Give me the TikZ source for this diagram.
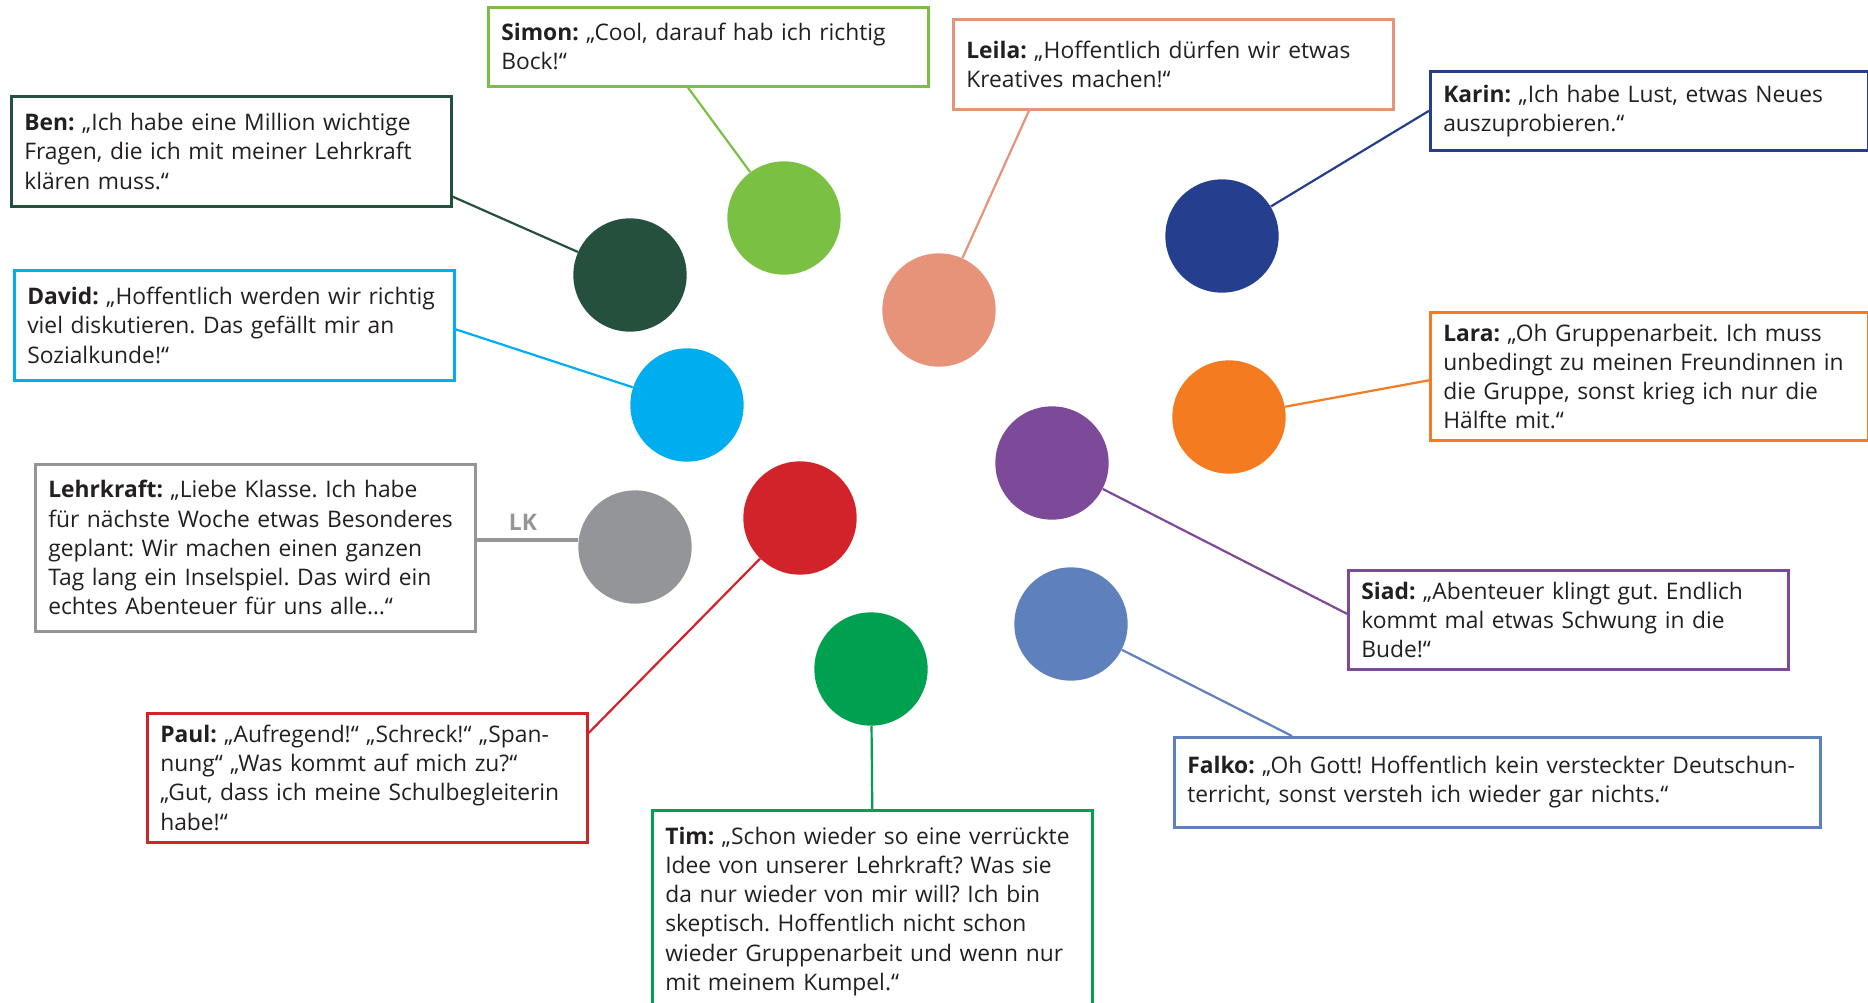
\documentclass[tikz,border=0pt]{standalone}
\usepackage{fontspec}
\setmainfont{Open Sans}
\usetikzlibrary{calc}
\frenchspacing
\definecolor{textgray}{HTML}{231F20}
\definecolor{bengreen}{HTML}{25503D}
\definecolor{simongreen}{HTML}{7AC143}
\definecolor{leilarose}{HTML}{E6937A}
\definecolor{karinblue}{HTML}{253F8E}
\definecolor{davidcyan}{HTML}{00AEEF}
\definecolor{laraorange}{HTML}{F47B20}
\definecolor{siadpurple}{HTML}{7D4A9A}
\definecolor{lkgray}{HTML}{939598}
\definecolor{paulred}{HTML}{D2232A}
\definecolor{falkoblue}{HTML}{5E81BD}
\definecolor{timgreen}{HTML}{00A051}
\tikzset{
  person/.style={circle,fill=#1,draw=none,inner sep=0pt,minimum size=56.7pt},
  speech/.style={draw=#1,line width=1.3pt,anchor=north west,align=left,inner xsep=6.5pt,inner ysep=0pt,
    text=textgray,font=\fontsize{11.4}{14.6}\selectfont,text width=207pt},
  link/.style={draw=#1,line width=1.1pt}
}

\begin{document}
\begin{tikzpicture}[x=0.5pt,y=-0.5pt]
     \useasboundingbox (0,0) rectangle (1868,1002);
     % the kids and the teacher
     \node[person=bengreen]   at (630,275)  (ben)   {};
     \node[person=simongreen] at (784,218)  (simon) {};
     \node[person=leilarose]  at (939,310)  (leila) {};
     \node[person=karinblue]  at (1222,236) (karin) {};
     \node[person=davidcyan]  at (687,405)  (david) {};
     \node[person=laraorange] at (1229,417) (lara)  {};
     \node[person=siadpurple] at (1052,463) (siad)  {};
     \node[person=lkgray]     at (635,547)  (lk)    {};
     \node[person=paulred]    at (800,518)  (paul)  {};
     \node[person=falkoblue]  at (1071,624) (falko) {};
     \node[person=timgreen]   at (871,669)  (tim)   {};
     % what they say
     \node[speech=simongreen,minimum height=39.5pt] at (487,6) (simonbox)
       {\textbf{Simon:} „Cool, darauf hab ich richtig\\Bock!“};
     \node[speech=leilarose,minimum height=45pt] at (952,18) (leilabox)
       {\textbf{Leila:} „Hoffentlich dürfen wir etwas\\Kreatives machen!“};
     \node[speech=karinblue,minimum height=39.5pt,text width=206pt] at (1429,70) (karinbox)
       {\textbf{Karin:} „Ich habe Lust, etwas Neues\\auszuprobieren.“};
     \node[speech=bengreen,minimum height=55pt] at (10,95) (benbox)
       {\textbf{Ben:} „Ich habe eine Million wichtige\\Fragen, die ich mit meiner Lehrkraft\\klären muss.“};
     \node[speech=davidcyan,minimum height=55pt] at (13,269) (davidbox)
       {\textbf{David:} „Hoffentlich werden wir richtig\\viel diskutieren. Das gefällt mir an\\Sozialkunde!“};
     \node[speech=laraorange,minimum height=64pt,text width=206pt] at (1429,311) (larabox)
       {\textbf{Lara:} „Oh Gruppenarbeit. Ich muss\\unbedingt zu meinen Freundinnen in\\die Gruppe, sonst krieg ich nur die\\Hälfte mit.“};
     \node[speech=lkgray,minimum height=83.5pt] at (34,463) (lehrkraftbox)
       {\textbf{Lehrkraft:} „Liebe Klasse. Ich habe\\für nächste Woche etwas Besonderes\\geplant: Wir machen einen ganzen\\Tag lang ein Inselspiel. Das wird ein\\echtes Abenteuer für uns alle…“};
     \node[speech=siadpurple,minimum height=49.5pt] at (1347,569) (siadbox)
       {\textbf{Siad:} „Abenteuer klingt gut. Endlich\\kommt mal etwas Schwung in die\\Bude!“};
     \node[speech=paulred,minimum height=64.5pt] at (146,712) (paulbox)
       {\textbf{Paul:} „Aufregend!“ „Schreck!“ „Span-\\nung“ „Was kommt auf mich zu?“\\„Gut, dass ich meine Schulbegleiterin\\habe!“};
     \node[speech=falkoblue,minimum height=45pt,text width=310pt] at (1173,736) (falkobox)
       {\textbf{Falko:} „Oh Gott! Hoffentlich kein versteckter Deutschun-\\terricht, sonst versteh ich wieder gar nichts.“};
     \node[speech=timgreen,minimum height=101pt] at (651,809) (timbox)
       {\textbf{Tim:} „Schon wieder so eine verrückte\\Idee von unserer Lehrkraft? Was sie\\da nur wieder von mir will? Ich bin\\skeptisch. Hoffentlich nicht schon\\wieder Gruppenarbeit und wenn nur\\mit meinem Kumpel.“};
     \node[lkgray,font=\fontsize{11.4}{14}\selectfont\bfseries] at (523,522) (lklabel) {LK};
     % lines from the boxes to the dots
     \draw[link=simongreen] ($(simonbox.south west)+(201,0)$)--(simon);
     \draw[link=leilarose]  ($(leilabox.south west)+(77,0)$)--(leila);
     \draw[link=karinblue]  (karinbox.west)--(karin);
     \draw[link=bengreen]   ($(benbox.south east)+(0,-11)$)--(ben);
     \draw[link=davidcyan]  ($(davidbox.east)+(0,4)$)--(david);
     \draw[link=laraorange] ($(larabox.west)+(0,4)$)--(lara);
     \draw[link=siadpurple] ($(siadbox.west)+(0,-6)$)--(siad);
     \draw[link=lkgray,line width=1.7pt] (lk.173)--(lk.173 -| lehrkraftbox.east);
     \draw[link=paulred]    ($(paulbox.north east)+(0,21)$)--(paul);
     \draw[link=falkoblue]  ($(falkobox.north west)+(119,0)$)--(falko);
     \draw[link=timgreen]   (timbox.north)--(tim);
\end{tikzpicture}
\end{document}
